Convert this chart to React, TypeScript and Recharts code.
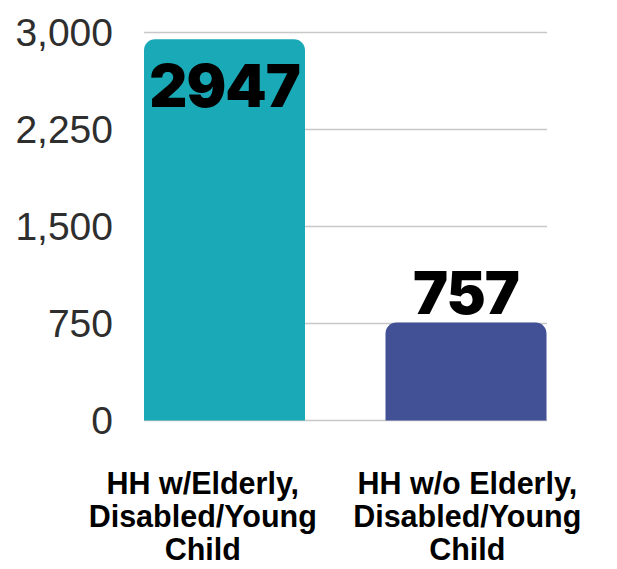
import { BarChart, Bar, XAxis, YAxis, CartesianGrid, Cell, LabelList } from 'recharts'

const categories = ['HH w/Elderly, Disabled/Young Child', 'HH w/o Elderly, Disabled/Young Child']
const households = [2947, 757]
const barColors = ['#19a9b7', '#425196']
const yTicks = [0, 750, 1500, 2250, 3000]

const data = categories.map((name, i) => ({ name, value: households[i] }))

const categoryLines: Record<string, string[]> = {
  [categories[0]]: ['HH w/Elderly,', 'Disabled/Young', 'Child'],
  [categories[1]]: ['HH w/o Elderly,', 'Disabled/Young', 'Child'],
}

const labelShift = [-22, 1]

function CategoryTick({ x, y, payload, index }: any) {
  const lines = categoryLines[payload.value] || [payload.value]
  return (
    <g transform={`translate(${x + (labelShift[index] || 0)},${y})`}>
      {lines.map((line, i) => (
        <text
          key={i}
          x={0}
          y={73 + i * 33}
          textAnchor="middle"
          fill="#000"
          fontFamily="'Liberation Sans', Arial, sans-serif"
          fontWeight={700}
          fontSize={30.5}
        >
          {line}
        </text>
      ))}
    </g>
  )
}

function ValueTick({ x, y, payload }: any) {
  return (
    <text
      x={x + 9}
      y={y}
      dy="0.355em"
      textAnchor="end"
      fill="#2e2e2e"
      fontFamily="'Liberation Sans', Arial, sans-serif"
      fontSize={39}
    >
      {payload.value.toLocaleString('en-US')}
    </text>
  )
}

function ValueLabel({ x, y, width, value }: any) {
  // tall bar: label sits inside the top of the bar
  const inside = y < 80
  return (
    <text
      x={x + width / 2}
      y={inside ? y + 68 : y - 9}
      textAnchor="middle"
      fill="#000"
      fontFamily="Inter, 'Noto Sans', sans-serif"
      fontWeight={900}
      fontSize={59}
      letterSpacing={-1}
    >
      {value}
    </text>
  )
}

export default function App() {
  return (
    <div style={{ position: 'absolute', left: 0, top: 0, background: '#fff' }}>
      <BarChart
        width={617}
        height={569}
        data={data}
        margin={{ top: 32.5, right: 30, bottom: 8.5, left: 14 }}
        barSize={161}
      >
        <CartesianGrid
          vertical={false}
          x={144}
          width={403}
          stroke="#c8c8c8"
          strokeWidth={1.5}
        />
        <XAxis
          dataKey="name"
          axisLine={false}
          tickLine={false}
          tickSize={0}
          tickMargin={0}
          height={140}
          interval={0}
          tick={<CategoryTick />}
        />
        <YAxis
          width={90}
          domain={[0, 3000]}
          ticks={yTicks}
          axisLine={false}
          tickLine={false}
          tickSize={0}
          tickMargin={0}
          tick={<ValueTick />}
        />
        <Bar dataKey="value" radius={[11, 11, 0, 0]} isAnimationActive={false}>
          {data.map((d, i) => (
            <Cell key={d.name} fill={barColors[i]} />
          ))}
          <LabelList dataKey="value" content={<ValueLabel />} />
        </Bar>
      </BarChart>
    </div>
  )
}
